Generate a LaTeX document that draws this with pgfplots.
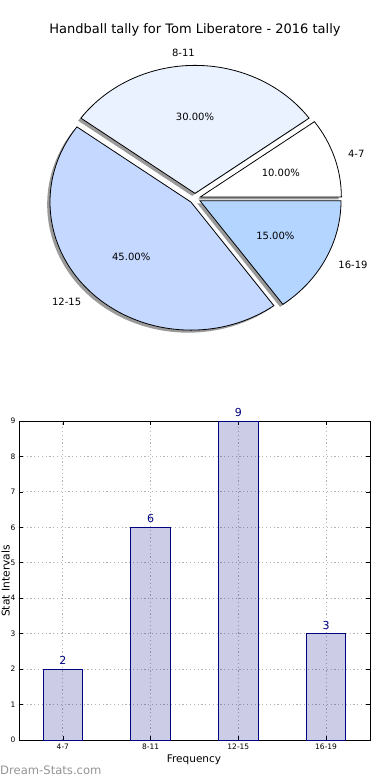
\documentclass[border=0pt]{standalone}
\usepackage{pgfplots}
\pgfplotsset{compat=1.18}
\usepackage{fontspec}
\setmainfont{DejaVu Sans}
\definecolor{cA}{HTML}{FFFFFF}
\definecolor{cB}{HTML}{EBF2FF}
\definecolor{cC}{HTML}{C5D8FF}
\definecolor{cD}{HTML}{B3D5FF}
\definecolor{navyc}{HTML}{000080}
\definecolor{shadowc}{HTML}{9A9A9A}
\definecolor{gridc}{HTML}{B4B4B4}
% #1 cumulative value before slice, #2 value
\newcommand\pieshadow[2]{%
  \pgfmathsetmacro\sa{360*#1/20}%
  \pgfmathsetmacro\ea{360*(#1+#2)/20}%
  \pgfmathsetmacro\ma{(\sa+\ea)/2}%
  \pgfmathsetmacro\cx{0.04*cos(\ma)-0.02}%
  \pgfmathsetmacro\cy{0.04*sin(\ma)-0.02}%
  \pgfmathsetmacro\px{\cx+cos(\sa)}%
  \pgfmathsetmacro\py{\cy+sin(\sa)}%
  \fill[shadowc] (axis cs:\cx,\cy) -- (axis cs:\px,\py) arc[start angle=\sa, end angle=\ea, x radius=141pt, y radius=128pt] -- cycle;
}
% #1 cumulative, #2 value, #3 colour, #4 label, #5 anchor of label
\newcommand\pieslice[5]{%
  \pgfmathsetmacro\sa{360*#1/20}%
  \pgfmathsetmacro\ea{360*(#1+#2)/20}%
  \pgfmathsetmacro\ma{(\sa+\ea)/2}%
  \pgfmathsetmacro\cx{0.04*cos(\ma)}%
  \pgfmathsetmacro\cy{0.04*sin(\ma)}%
  \pgfmathsetmacro\px{\cx+cos(\sa)}%
  \pgfmathsetmacro\py{\cy+sin(\sa)}%
  \filldraw[fill=#3, draw=black, line width=0.8pt, line join=miter] (axis cs:\cx,\cy) -- (axis cs:\px,\py) arc[start angle=\sa, end angle=\ea, x radius=141pt, y radius=128pt] -- cycle;
  \pgfmathsetmacro\lx{\cx+0.6*cos(\ma)}%
  \pgfmathsetmacro\ly{\cy+0.6*sin(\ma)}%
  \pgfmathsetmacro\ox{\cx+1.1*cos(\ma)}%
  \pgfmathsetmacro\oy{\cy+1.1*sin(\ma)}%
  \pgfmathsetmacro\pct{100*#2/20}%
  \node[font=\fontsize{10}{12}\selectfont, inner sep=0pt] at (axis cs:\lx,\ly) {\pgfmathprintnumber[fixed,fixed zerofill,precision=2,assume math mode=true]{\pct}\%};
  \node[font=\fontsize{10}{12}\selectfont, inner sep=0pt, anchor=#5] at (axis cs:\ox,\oy) {#4};
}
\begin{document}
\begin{tikzpicture}[x=1pt,y=1pt]
\path[use as bounding box] (0pt,0pt) rectangle (390pt,780pt);
% title
\node[font=\fontsize{13}{15}\selectfont] at (195pt,750pt) {Handball tally for Tom Liberatore - 2016 tally};
% pie chart
\begin{axis}[at={(0pt,400pt)}, anchor=south west, width=390pt, height=380pt, scale only axis,
  hide axis, xmin=-1.382979, xmax=1.382979, ymin=-1.417969, ymax=1.550781, clip=false]
\addplot[draw=none, forget plot] coordinates {(0,0)};
\pgfplotsextra{%
  \pieshadow{0}{2}\pieshadow{2}{6}\pieshadow{8}{9}\pieshadow{17}{3}%
  \pieslice{0}{2}{cA}{4-7}{west}%
  \pieslice{2}{6}{cB}{8-11}{east}%
  \pieslice{8}{9}{cC}{12-15}{east}%
  \pieslice{17}{3}{cD}{16-19}{west}%
}
\end{axis}
% bar chart
\begin{axis}[at={(19pt,40pt)}, anchor=south west, width=351pt, height=319pt, scale only axis,
  xmin=-0.5, xmax=3.5, ymin=0, ymax=9,
  xtick={0,1,2,3}, xticklabels={4-7,8-11,12-15,16-19},
  ytick={0,1,...,9},
  grid=major, grid style={gridc, line width=0.9pt, dash pattern=on 1.2pt off 2.6pt},
  tick align=inside, major tick length=4pt, tick style={black, line width=0.6pt},
  ticklabel style={font=\fontsize{7.5}{9}\selectfont},
  /pgf/number format/assume math mode=true,
  axis line style={black, line width=0.8pt},
  clip=false]
\addplot[ybar, bar width=0.45, fill=navyc, fill opacity=0.2, draw=navyc, draw opacity=1, line width=0.8pt,
  nodes near coords,
  nodes near coords style={font=\fontsize{11}{13}\selectfont, text=navyc, text opacity=1, opacity=1, anchor=south, yshift=0.5pt}]
  coordinates {(0,2) (1,6) (2,9) (3,3)};
\end{axis}
\node[font=\fontsize{10.5}{12}\selectfont] at (194pt,20pt) {Frequency};
\node[font=\fontsize{10.7}{12}\selectfont, rotate=90, anchor=base] at (9.5pt,199pt) {Stat Intervals};
\node[font=\fontsize{11.6}{13}\selectfont, text=black!42, anchor=west, inner sep=0pt] at (0pt,10pt) {Dream-Stats.com};
\end{tikzpicture}
\end{document}
